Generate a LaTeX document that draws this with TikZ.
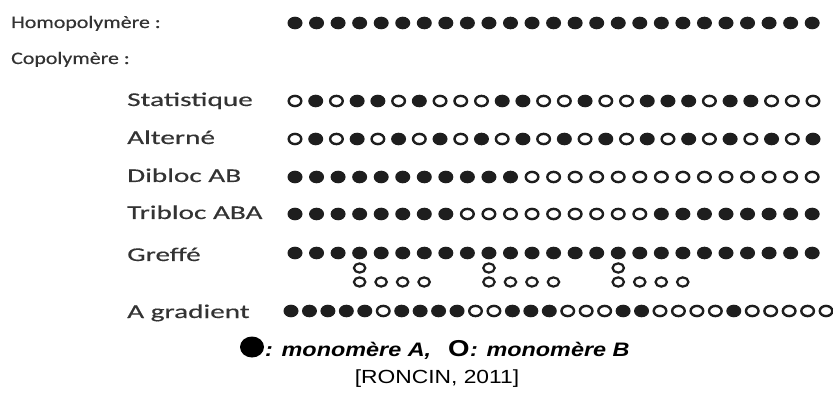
\documentclass[tikz,border=0pt]{standalone}
\usepackage{fontspec}
\setmainfont{Carlito}[FakeBold=0.3]
\newfontfamily\arialfont{Liberation Sans}
\definecolor{ink}{HTML}{1E1E1E}
\definecolor{txt}{HTML}{333333}
\newcommand\wide[2][1.25]{\scalebox{#1}[1]{#2}}
\newcommand\soliddot[2]{\fill[ink] (#1,#2) ellipse [x radius=7.5, y radius=6.3];}
\newcommand\hollowdot[2]{\draw[ink,line width=2.4pt] (#1,#2) ellipse [x radius=6.3, y radius=5.1];}
\newcommand\smallhollow[2]{\draw[ink,line width=2.2pt] (#1,#2) ellipse [x radius=5.7, y radius=4.6];}
\newcommand\dotrow[4]{% start x, spacing, y, list
  \foreach \c [count=\i from 0] in {#4} {%
    \pgfmathsetmacro\xx{#1+\i*#2}%
    \ifnum\c=1 \soliddot{\xx}{#3}\else\hollowdot{\xx}{#3}\fi}}
\begin{document}
\begin{tikzpicture}[x=1pt,y=-1pt,
  lab/.style={anchor=base west,inner sep=0pt,text=txt,font=\fontsize{17.5}{20}\selectfont},
  sublab/.style={anchor=base west,inner sep=0pt,text=txt,font=\fontsize{19.5}{22}\selectfont},
  legend/.style={anchor=base west,inner sep=0pt,text=black,font=\arialfont\bfseries\itshape\fontsize{19.5}{22}\selectfont},
  source/.style={anchor=base,inner sep=0pt,text=black,font=\arialfont\fontsize{19}{22}\selectfont}]
\useasboundingbox (0,0) rectangle (833,414);
\fill[white] (0,0) rectangle (833,414);

% labels
\node[lab] (homo) at (11,28) {\wide{Homopolymère :}};
\node[lab] (copo) at (11,64) {\wide{Copolymère :}};
\node[sublab] (stat) at (127,106) {\wide[1.5]{Statistique}};
\node[sublab] (alt) at (127,144) {\wide[1.5]{Alterné}};
\node[sublab] (dib) at (127,182) {\wide[1.5]{Dibloc AB}};
\node[sublab] (trib) at (127,219) {\wide[1.5]{Tribloc ABA}};
\node[sublab] (gref) at (127,261) {\wide[1.5]{Greffé}};
\node[sublab] (grad) at (127,318) {\wide[1.5]{A gradient}};

% homopolymer
\dotrow{295}{21.55}{23}{1,1,1,1,1,1,1,1,1,1,1,1,1,1,1,1,1,1,1,1,1,1,1,1,1}
% statistique
\dotrow{295}{20.72}{101}{0,1,0,1,1,0,1,0,0,0,1,1,0,0,1,0,0,1,1,1,0,1,1,0,0,0}
% alterne
\dotrow{295}{20.72}{139}{0,1,0,1,0,1,0,1,0,1,0,1,0,1,0,1,0,1,0,1,0,1,0,1,0,1}
% dibloc
\dotrow{295}{21.55}{177}{1,1,1,1,1,1,1,1,1,1,1,0,0,0,0,0,0,0,0,0,0,0,0,0,0}
% tribloc
\dotrow{295}{21.55}{214}{1,1,1,1,1,1,1,1,0,0,0,0,0,0,0,0,0,1,1,1,1,1,1,1,1}
% greffe
\dotrow{295}{21.55}{253}{1,1,1,1,1,1,1,1,1,1,1,1,1,1,1,1,1,1,1,1,1,1,1,1,1}
\foreach \k in {3,9,15} {
  \pgfmathsetmacro\bx{295+\k*21.55}
  \smallhollow{\bx}{268}
  \foreach \j in {0,1,2,3} {
    \pgfmathsetmacro\cx{\bx+\j*21.5}
    \smallhollow{\cx}{282}
  }
}
% gradient
\dotrow{291}{18.45}{311}{1,1,1,1,1,0,1,1,1,1,0,0,1,1,1,0,0,0,1,1,0,0,0,0,1,0,0,0,0,0}

% legend
\fill[black] (252,347) ellipse [x radius=12, y radius=10.5];
\node[legend] (legA) at (265,356) {\wide[1.2]{: monomère A,}};
\node[legend] (legO) at (448,356) {\fontsize{23}{24}\selectfont\upshape\wide[1.2]{O}};
\node[legend] (legB) at (legO.base east) [anchor=base west] {\wide[1.2]{: monomère B}};
\node[source] (src) at (437,383) {\wide[1.2]{[RONCIN, 2011]}};
\end{tikzpicture}
\end{document}
